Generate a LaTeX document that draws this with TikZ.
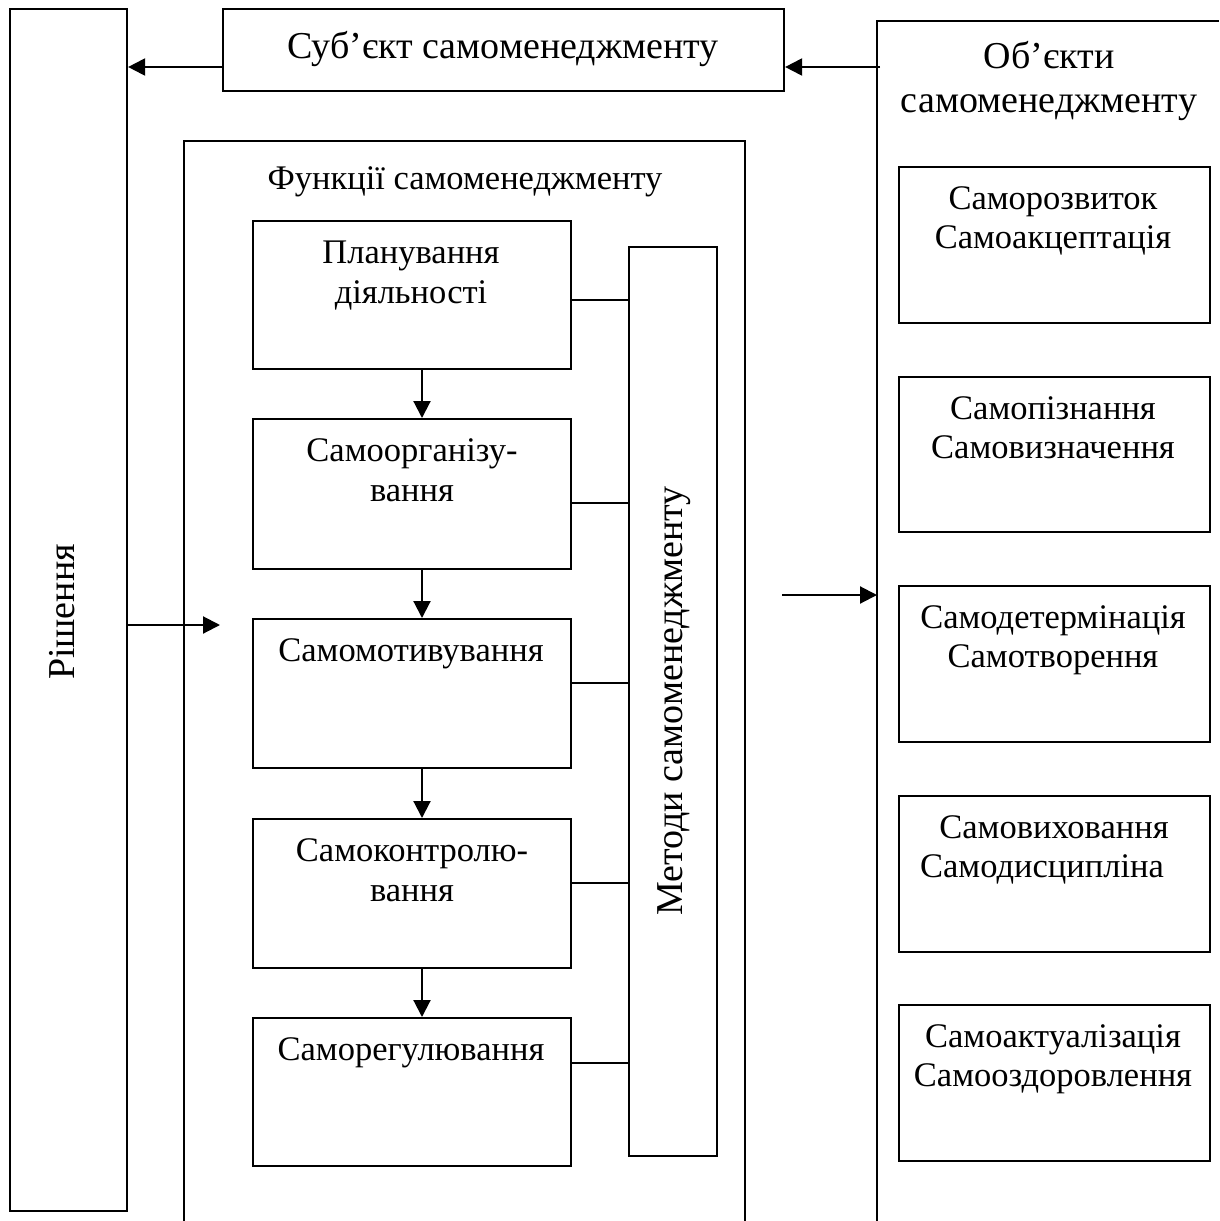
\documentclass[tikz,border=0pt]{standalone}
\usepackage{fontspec}
\setmainfont{Liberation Serif}
\usetikzlibrary{arrows.meta,calc}
\begin{document}
\begin{tikzpicture}[x=1pt,y=-1pt,
  box/.style={draw,line width=2.1pt,anchor=north west,inner sep=0pt},
  txt/.style={anchor=base,inner sep=0pt,font=\fontsize{34.5}{39}\selectfont},
  bigtxt/.style={anchor=base,inner sep=0pt,font=\fontsize{38}{44}\selectfont},
  vtxt/.style={rotate=90,inner sep=0pt,font=\fontsize{38}{44}\selectfont},
  ln/.style={line width=2.1pt},
  arr/.style={line width=2.1pt,-{Triangle[length=17pt,width=17pt]}}]
\useasboundingbox (0,0) rectangle (1219,1221);
% Рішення
\node[box,minimum width=117pt,minimum height=1202pt] (r) at (9,8) {};
\node[vtxt] (rt) at (62,612) {Рішення};
% Суб'єкт
\node[box,minimum width=561pt,minimum height=82pt] (s) at (222,8) {};
\node[bigtxt] (st) at (503,58) {Суб’єкт самоменеджменту};
% Об'єкти frame (open)
\coordinate (o1) at (877,1221);
\coordinate (o2) at (877,21);
\coordinate (o3) at (1219,21);
\draw[ln] (o1) -- (o2) -- (o3);
\node[bigtxt] (ot1) at (1049,68) {Об’єкти};
\node[bigtxt] (ot2) at (1049,112) {самоменеджменту};
% Функції frame (open)
\coordinate (f1) at (184,1221);
\coordinate (f2) at (184,141);
\coordinate (f3) at (745,141);
\coordinate (f4) at (745,1221);
\draw[ln] (f1) -- (f2) -- (f3) -- (f4);
\node[txt] (ft) at (465,189) {Функції самоменеджменту};
% function boxes
\node[box,minimum width=318pt,minimum height=148pt] (p1) at (252,220) {};
\node[box,minimum width=318pt,minimum height=150pt] (p2) at (252,418) {};
\node[box,minimum width=318pt,minimum height=149pt] (p3) at (252,618) {};
\node[box,minimum width=318pt,minimum height=149pt] (p4) at (252,818) {};
\node[box,minimum width=318pt,minimum height=148pt] (p5) at (252,1017) {};
\node[txt] (p1a) at (411,263) {Планування};
\node[txt] (p1b) at (411,303) {діяльності};
\node[txt] (p2a) at (412,461) {Самоорганізу-};
\node[txt] (p2b) at (412,501) {вання};
\node[txt] (p3a) at (411,661) {Самомотивування};
\node[txt] (p4a) at (412,861) {Самоконтролю-};
\node[txt] (p4b) at (412,901) {вання};
\node[txt] (p5a) at (411,1060) {Саморегулювання};
% Методи
\node[box,minimum width=88pt,minimum height=909pt] (m) at (628,246) {};
\node[vtxt] (mt) at (674,701) {Методи самоменеджменту};
% connectors to methods
\foreach \i/\y in {1/300,2/503,3/683,4/883,5/1063}{
  \coordinate (c\i) at (0,\y);
  \draw[ln] (c\i -| p\i.east) -- (c\i -| m.west);
}
% arrows between function boxes
\coordinate (ax) at (422,0);
\draw[arr] (ax |- p1.south) -- (ax |- p2.north);
\draw[arr] (ax |- p2.south) -- (ax |- p3.north);
\draw[arr] (ax |- p3.south) -- (ax |- p4.north);
\draw[arr] (ax |- p4.south) -- (ax |- p5.north);
% object boxes
\node[box,minimum width=311pt,minimum height=156pt] (b1) at (898,166) {};
\node[box,minimum width=311pt,minimum height=155pt] (b2) at (898,376) {};
\node[box,minimum width=311pt,minimum height=156pt] (b3) at (898,585) {};
\node[box,minimum width=311pt,minimum height=156pt] (b4) at (898,795) {};
\node[box,minimum width=311pt,minimum height=156pt] (b5) at (898,1004) {};
\node[txt] (b1a) at (1053,209) {Саморозвиток};
\node[txt] (b1b) at (1053,248) {Самоакцептація};
\node[txt] (b2a) at (1053,419) {Самопізнання};
\node[txt] (b2b) at (1053,458) {Самовизначення};
\node[txt] (b3a) at (1053,628) {Самодетермінація};
\node[txt] (b3b) at (1053,667) {Самотворення};
\node[txt] (b4a) at (1054,838) {Самовиховання};
\node[txt] (b4b) at (1042,877) {Самодисципліна};
\node[txt] (b5a) at (1053,1047) {Самоактуалізація};
\node[txt] (b5b) at (1053,1086) {Самооздоровлення};
% main arrows
\coordinate (a1) at (0,67);
\draw[arr] (a1 -| s.west) -- (a1 -| r.east);
\coordinate (a2) at (880,67);
\draw[arr] (a2) -- (a2 -| s.east);
\coordinate (a3) at (220,625);
\draw[arr] (a3 -| r.east) -- (a3);
\coordinate (a4) at (782,595);
\draw[arr] (a4) -- (a4 -| o2);
\end{tikzpicture}
\end{document}
